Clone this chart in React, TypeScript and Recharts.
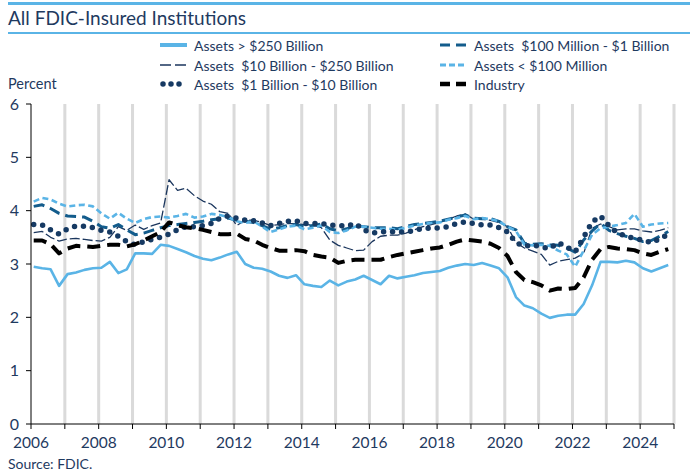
import React from "react";
import { LineChart, Line, XAxis, YAxis, ReferenceLine } from "recharts";

document.body.style.margin = "0";

const navy = "#1F3A5F";
const lightBlue = "#5AB4E6";

const years = [
  2006, 2007, 2008, 2009, 2010, 2011, 2012, 2013, 2014, 2015, 2016, 2017, 2018,
  2019, 2020, 2021, 2022, 2023, 2024,
];
const xTicks = [
  2006, 2007, 2008, 2009, 2010, 2011, 2012, 2013, 2014, 2015, 2016, 2017, 2018,
  2019, 2020, 2021, 2022, 2023, 2024, 2025,
];
const gridYears = xTicks.slice(1);
const yTicks = [0, 1, 2, 3, 4, 5, 6];

// quarterly values, one row per year
const over250B = [
  2.95, 2.92, 2.9, 2.59,
  2.81, 2.84, 2.89, 2.92,
  2.93, 3.04, 2.83, 2.9,
  3.2, 3.2, 3.19, 3.36,
  3.34, 3.28, 3.22, 3.15,
  3.1, 3.07, 3.12, 3.18,
  3.23, 3.0, 2.93, 2.91,
  2.86, 2.78, 2.74, 2.79,
  2.62, 2.59, 2.57, 2.69,
  2.6, 2.67, 2.71, 2.78,
  2.7, 2.62, 2.78, 2.73,
  2.76, 2.79, 2.83, 2.85,
  2.87, 2.93, 2.97, 3.0,
  2.98, 3.02, 2.97, 2.92,
  2.75, 2.38, 2.22, 2.17,
  2.07, 1.99, 2.03, 2.05,
  2.05, 2.25, 2.6, 3.04,
  3.04, 3.03, 3.06, 3.03,
  2.92, 2.86, 2.92, 2.98,
];

const b10to250 = [
  3.59, 3.61, 3.5, 3.43,
  3.47, 3.48, 3.46, 3.44,
  3.43, 3.5, 3.7, 3.63,
  3.73, 3.65, 3.72, 3.77,
  4.58, 4.38, 4.42, 4.28,
  4.18, 4.12, 3.98, 3.95,
  3.72, 3.82, 3.82, 3.78,
  3.72, 3.74, 3.76, 3.75,
  3.74, 3.73, 3.68, 3.45,
  3.35, 3.3, 3.25, 3.26,
  3.42, 3.52, 3.54, 3.54,
  3.58, 3.64, 3.7, 3.74,
  3.78, 3.84, 3.9, 3.94,
  3.84, 3.84, 3.82, 3.78,
  3.7, 3.4, 3.3, 3.24,
  3.18, 2.98, 3.05, 3.08,
  3.11, 3.2, 3.67, 3.75,
  3.7, 3.64, 3.66, 3.66,
  3.62, 3.6, 3.63, 3.68,
];

const b1to10 = [
  3.74, 3.73, 3.64, 3.56,
  3.66, 3.71, 3.71, 3.68,
  3.63, 3.6, 3.52, 3.42,
  3.36, 3.42, 3.46, 3.5,
  3.56, 3.64, 3.7, 3.7,
  3.72, 3.76, 3.86, 3.9,
  3.86, 3.82, 3.81, 3.77,
  3.72, 3.76, 3.8, 3.81,
  3.76, 3.76, 3.76, 3.73,
  3.72, 3.71, 3.76, 3.64,
  3.58, 3.6, 3.61, 3.6,
  3.6, 3.63, 3.67, 3.67,
  3.68, 3.7, 3.76, 3.79,
  3.76, 3.73, 3.73, 3.68,
  3.6, 3.4, 3.33, 3.36,
  3.32, 3.29, 3.4, 3.32,
  3.23, 3.5, 3.79, 3.9,
  3.72, 3.58, 3.52, 3.48,
  3.45, 3.4, 3.47, 3.56,
];

const m100to1B = [
  4.08, 4.11, 4.04, 3.95,
  3.9, 3.89, 3.88, 3.8,
  3.7, 3.67, 3.74, 3.64,
  3.55, 3.58, 3.63, 3.68,
  3.72, 3.74, 3.76, 3.78,
  3.8, 3.83, 3.85, 3.86,
  3.82, 3.8, 3.78, 3.72,
  3.65, 3.68, 3.72, 3.74,
  3.7, 3.72, 3.75, 3.66,
  3.62, 3.66, 3.72, 3.7,
  3.68, 3.68, 3.68, 3.66,
  3.7, 3.74, 3.76, 3.78,
  3.8, 3.84, 3.88, 3.92,
  3.86, 3.85, 3.85, 3.8,
  3.7, 3.64, 3.39, 3.37,
  3.38, 3.36, 3.35, 3.3,
  3.22, 3.45, 3.62, 3.76,
  3.63, 3.57, 3.52, 3.48,
  3.42, 3.44, 3.52, 3.61,
];

const under100M = [
  4.17, 4.24, 4.21, 4.13,
  4.08, 4.1, 4.11, 4.08,
  3.95, 3.85, 3.96, 3.85,
  3.77, 3.84, 3.88, 3.89,
  3.87, 3.9, 3.94, 3.87,
  3.89, 3.94, 3.92, 3.88,
  3.8, 3.77, 3.8, 3.7,
  3.6, 3.65, 3.7, 3.72,
  3.65, 3.68, 3.72, 3.6,
  3.58, 3.63, 3.7, 3.7,
  3.68, 3.66, 3.66, 3.64,
  3.68, 3.72, 3.75, 3.77,
  3.78, 3.83, 3.86, 3.9,
  3.84, 3.86, 3.84, 3.8,
  3.7, 3.62, 3.36, 3.35,
  3.36, 3.34, 3.25, 3.18,
  2.95, 3.25, 3.55, 3.67,
  3.7, 3.73, 3.77, 3.94,
  3.7, 3.74, 3.76, 3.77,
];

const industry = [
  3.44, 3.44, 3.37, 3.2,
  3.29, 3.34, 3.33, 3.32,
  3.34, 3.36, 3.36, 3.33,
  3.37, 3.44, 3.52, 3.6,
  3.78, 3.73, 3.69, 3.67,
  3.64, 3.6, 3.56, 3.56,
  3.57, 3.47, 3.44, 3.36,
  3.3, 3.25, 3.25, 3.26,
  3.24, 3.17, 3.14, 3.12,
  3.02, 3.06, 3.08, 3.08,
  3.08, 3.08, 3.13, 3.17,
  3.2, 3.23, 3.26, 3.29,
  3.31, 3.36, 3.42, 3.46,
  3.44, 3.42, 3.38, 3.3,
  3.15, 2.85, 2.7, 2.66,
  2.6, 2.5, 2.54, 2.53,
  2.55, 2.75, 3.08, 3.28,
  3.32, 3.29, 3.28, 3.26,
  3.2, 3.17, 3.23, 3.28,
];

const data = years.flatMap((y, yi) =>
  [0, 1, 2, 3].map((q) => {
    const i = yi * 4 + q;
    return {
      t: y + q / 4 + 0.08,
      a: over250B[i],
      b: b10to250[i],
      c: b1to10[i],
      d: m100to1B[i],
      e: under100M[i],
      f: industry[i],
    };
  })
);

const series = [
  { key: "a", name: "Assets > $250 Billion", color: lightBlue, width: 2.6, dash: undefined, legendDash: undefined, cap: "butt", lw: 4 },
  { key: "b", name: "Assets  $10 Billion - $250 Billion", color: "#1B365D", width: 1.3, dash: "10 3", legendDash: "11 4", cap: "butt", lw: 1.5 },
  { key: "d", name: "Assets  $100 Million - $1 Billion", color: "#135C8C", width: 3, dash: "11 6", legendDash: "10 6", cap: "butt", lw: 3 },
  { key: "e", name: "Assets < $100 Million", color: lightBlue, width: 2.6, dash: "6 3.5", legendDash: "6 3", cap: "butt", lw: 3 },
  { key: "c", name: "Assets  $1 Billion - $10 Billion", color: "#163A63", width: 5.5, dash: "0 9", legendDash: "0 8", cap: "round", lw: 5.5 },
  { key: "f", name: "Industry", color: "#000000", width: 4, dash: "13 7", legendDash: "10 6", cap: "butt", lw: 4.5 },
];

const legendLayout: Record<string, { x: number; y: number }> = {
  a: { x: 160, y: 45 },
  b: { x: 160, y: 65 },
  c: { x: 160, y: 84 },
  d: { x: 440, y: 45 },
  e: { x: 440, y: 65 },
  f: { x: 440, y: 84 },
};

function LegendItem({ s }: { s: (typeof series)[number] }) {
  const pos = legendLayout[s.key];
  return (
    <div
      style={{
        position: "absolute",
        left: pos.x,
        top: pos.y - 10,
        height: 20,
        display: "flex",
        alignItems: "center",
        whiteSpace: "pre",
      }}
    >
      <svg width={30} height={20}>
        <line
          x1={s.cap === "round" ? 3 : 0}
          x2={27}
          y1={10}
          y2={10}
          stroke={s.color}
          strokeWidth={s.lw}
          strokeDasharray={s.legendDash}
          strokeLinecap={s.cap as any}
        />
      </svg>
      <span style={{ marginLeft: 4, fontSize: 14 }}>{s.name}</span>
    </div>
  );
}

export default function App() {
  return (
    <div
      style={{
        position: "relative",
        width: 690,
        height: 474,
        fontFamily: "Lato, sans-serif",
        color: navy,
        background: "#fff",
        overflow: "hidden",
      }}
    >
      <div style={{ position: "absolute", left: 8, right: 0, top: 2, height: 3, background: lightBlue }} />
      <div style={{ position: "absolute", left: 8, top: 6, fontSize: 19, lineHeight: "24px" }}>
        All FDIC-Insured Institutions
      </div>
      <div style={{ position: "absolute", left: 8, right: 0, top: 32, height: 2, background: lightBlue }} />
      {series.map((s) => (
        <LegendItem key={s.key} s={s} />
      ))}
      <div style={{ position: "absolute", left: 8, top: 74, fontSize: 14.5, lineHeight: "20px" }}>Percent</div>
      <div style={{ position: "absolute", left: 0, top: 0 }}>
        <LineChart width={690} height={474} data={data} margin={{ top: 104, right: 16, left: 0, bottom: 16 }}>
          {gridYears.map((y) => (
            <ReferenceLine key={y} x={y} stroke="#DADADA" strokeWidth={3} />
          ))}
          <XAxis
            dataKey="t"
            type="number"
            domain={[2006, 2025]}
            ticks={xTicks}
            interval={0}
            tickFormatter={(v: number) => (v % 2 === 0 ? String(v) : "")}
            height={34}
            tickSize={5}
            tickMargin={8}
            axisLine={{ stroke: "#000" }}
            tickLine={{ stroke: "#000" }}
            tick={{ fill: navy, fontSize: 15.5, fontFamily: "Lato, sans-serif" }}
          />
          <YAxis
            type="number"
            domain={[0, 6]}
            ticks={yTicks}
            width={31}
            tickSize={5}
            tickMargin={7}
            axisLine={{ stroke: "#000" }}
            tickLine={{ stroke: "#000" }}
            tick={{ fill: navy, fontSize: 16, fontFamily: "Lato, sans-serif" }}
          />
          {series.map((s) => (
            <Line
              key={s.key}
              dataKey={s.key}
              type="linear"
              stroke={s.color}
              strokeWidth={s.width}
              strokeDasharray={s.dash}
              strokeLinecap={s.cap as any}
              strokeLinejoin="round"
              dot={false}
              activeDot={false}
              isAnimationActive={false}
            />
          ))}
        </LineChart>
      </div>
      <div style={{ position: "absolute", left: 8, top: 454, fontSize: 14, lineHeight: "20px" }}>Source: FDIC.</div>
    </div>
  );
}
